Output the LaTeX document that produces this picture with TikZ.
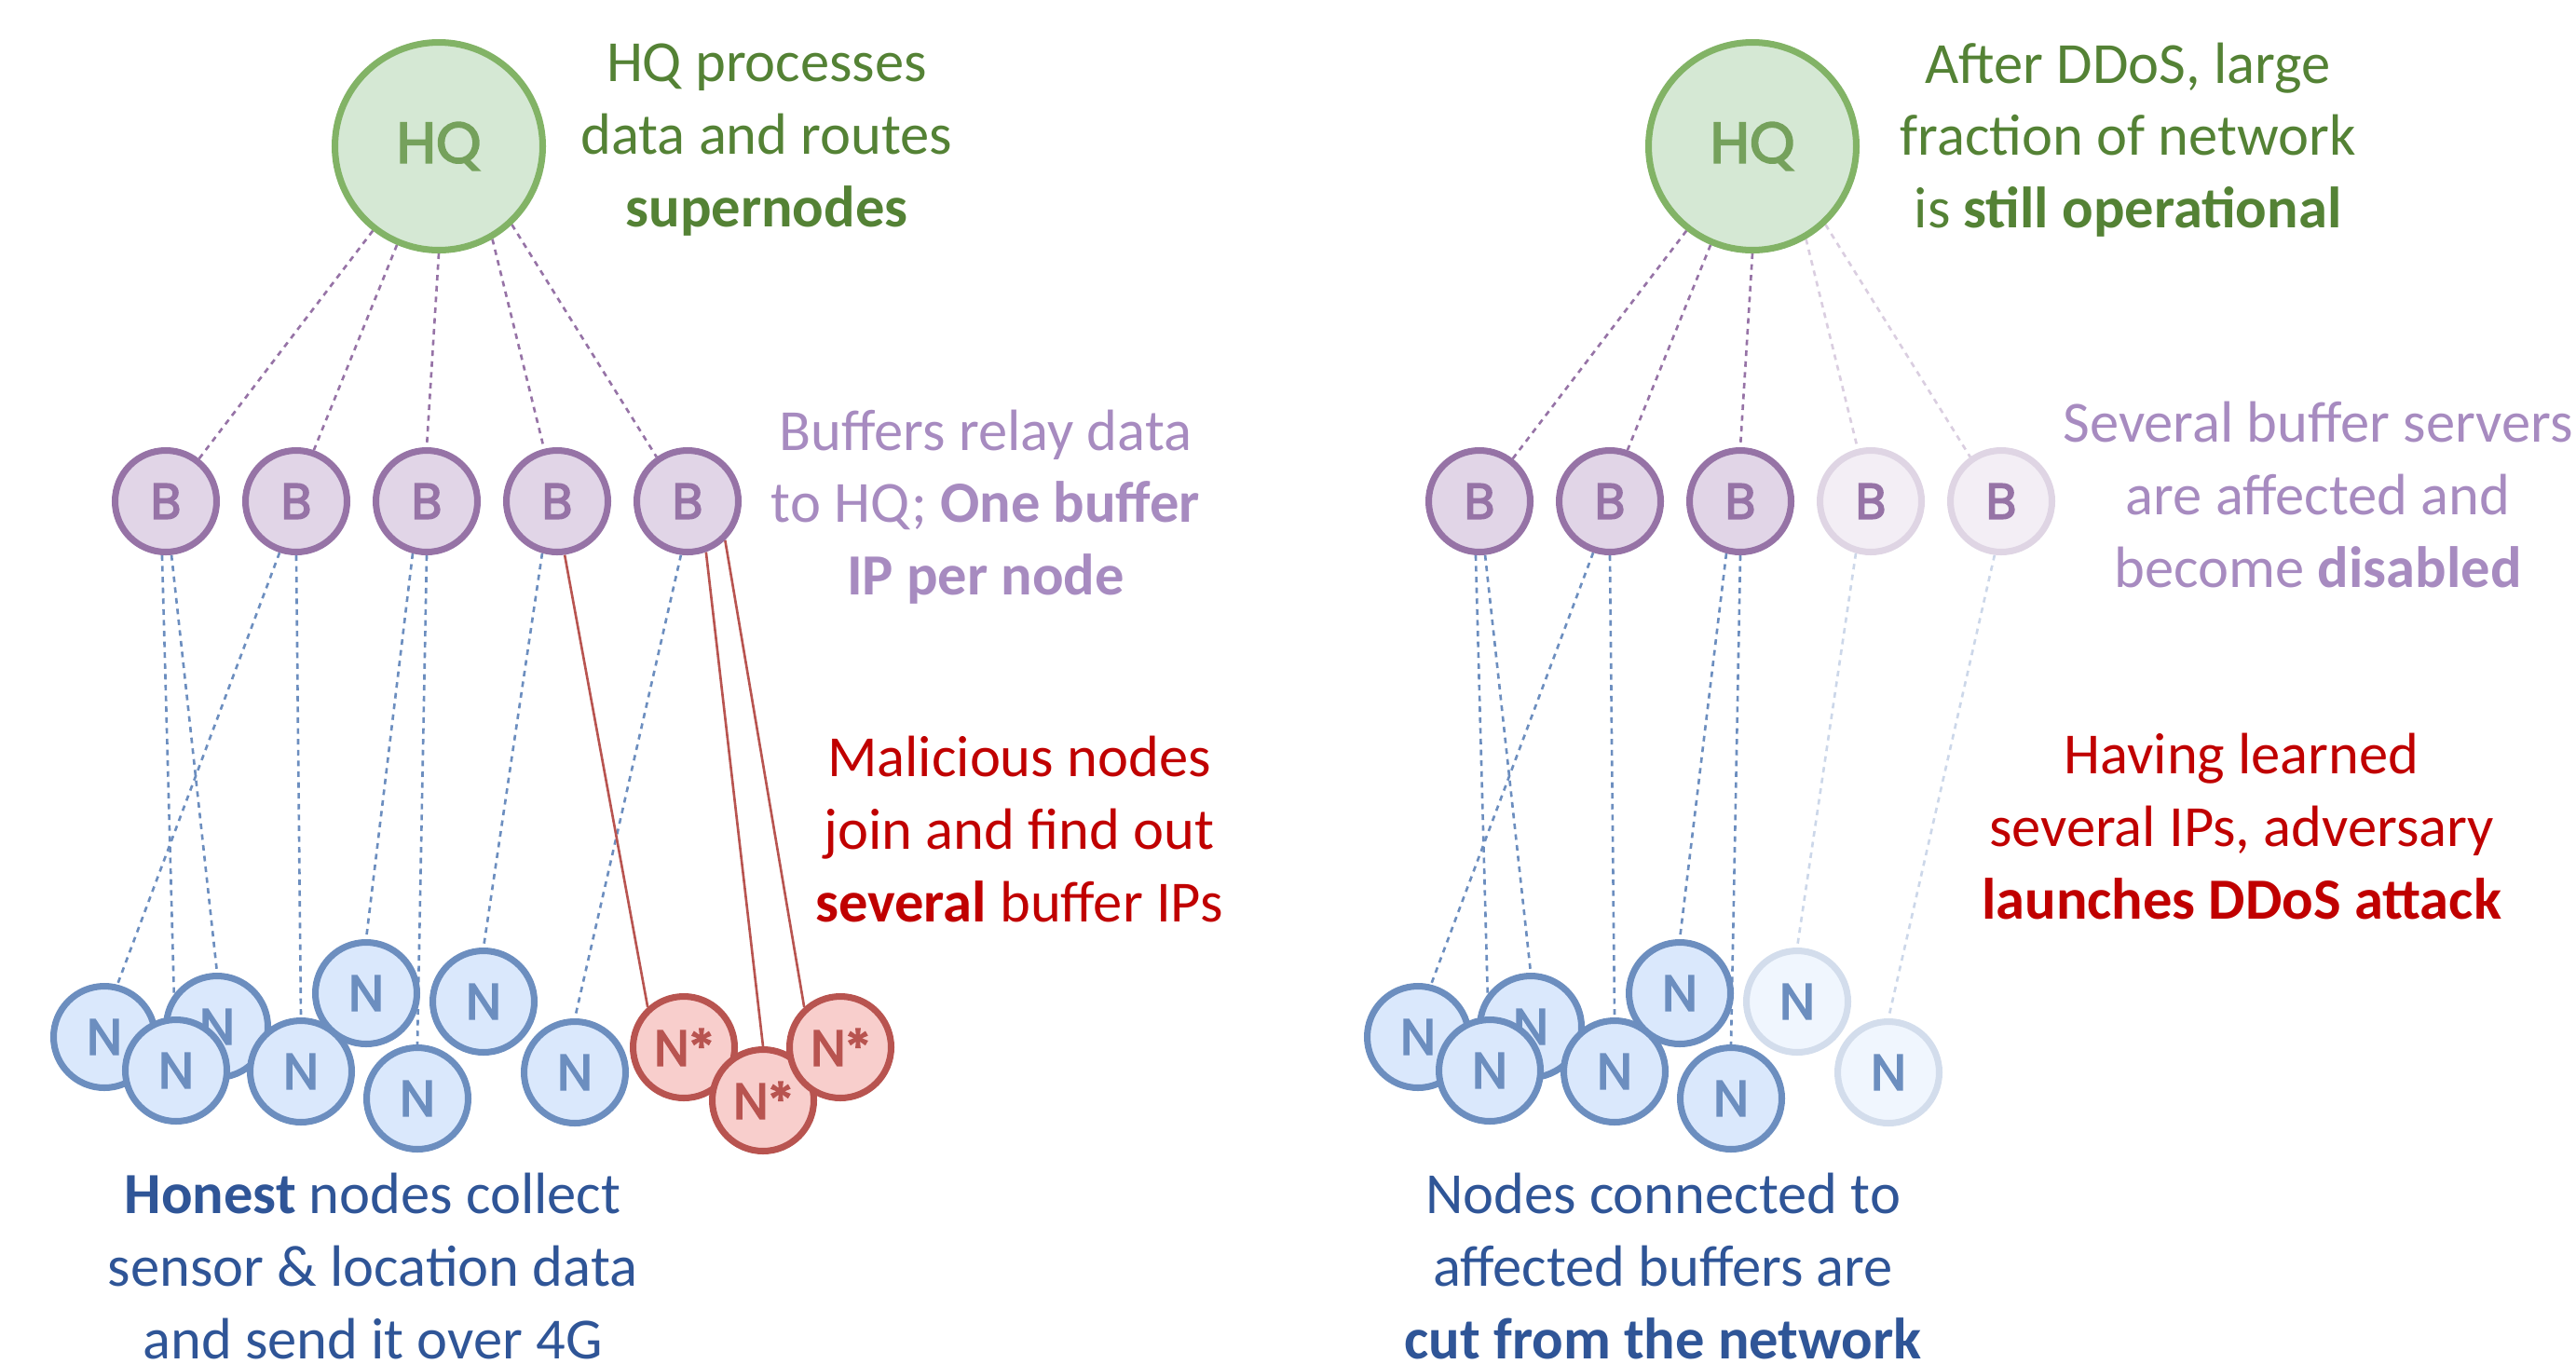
\documentclass[tikz,border=0pt]{standalone}
\usepackage{fontspec}
\setmainfont{Carlito}
\newfontfamily\nodefont[FakeBold=3]{Poppins}
\usepackage{xcolor}
\usepackage{tikz}
\usetikzlibrary{positioning, backgrounds}

\definecolor{hqfill}{HTML}{D5E8D4}
\definecolor{hqline}{HTML}{82B366}
\definecolor{buffill}{HTML}{E1D5E7}
\definecolor{bufline}{HTML}{9673A6}
\definecolor{honfill}{HTML}{DAE8FC}
\definecolor{honline}{HTML}{6C8EBF}
\definecolor{malfill}{HTML}{F8CECC}
\definecolor{malline}{HTML}{B85450}
\definecolor{txtgreen}{HTML}{548235}
\definecolor{txtpurple}{HTML}{A78BC0}
\definecolor{txtred}{HTML}{C00000}
\definecolor{txtblue}{HTML}{2F5597}

\begin{document}
\begin{tikzpicture}[
    hqnode/.style={
        circle,
        draw=hqline,
        line width=2pt,
        fill=hqfill,
        text=hqline!90!black,
        inner sep=0pt,
        minimum size=2.23cm,
        font=\nodefont\fontsize{17.5}{19}\selectfont
    },
    buf/.style={
        circle,
        draw=bufline,
        line width=2pt,
        fill=buffill,
        text=bufline,
        inner sep=0pt,
        minimum size=1.09cm,
        font=\nodefont\fontsize{15.3}{17}\selectfont
    },
    hon/.style={
        buf,
        draw=honline,
        fill=honfill,
        text=honline
    },
    mal/.style={
        buf,
        draw=malline,
        fill=malfill,
        text=malline
    },
    bufoff/.style={
        buf,
        draw=bufline!30,
        fill=buffill!40
    },
    honoff/.style={
        hon,
        draw=honline!30,
        fill=honfill!40
    },
    uplink/.style={
        dash pattern=on 1.7pt off 1.6pt,
        line width=0.75pt,
        color=bufline
    },
    downlink/.style={
        uplink,
        color=honline
    },
    uplinkoff/.style={
        uplink,
        color=bufline!35
    },
    downlinkoff/.style={
        downlink,
        color=honline!35
    },
    spy/.style={
        line width=0.75pt,
        color=malline
    },
    note/.style={
        align=center,
        font=\fontsize{17.8}{22.1}\selectfont
    }
]
\useasboundingbox (0,0) rectangle (27.65,-14.63);

% Before the attack
\node[hqnode] (hqL) at (4.71,-1.57) {HQ};

\node[buf] (bufL1) at (1.78,-5.38) {B};
\node[buf] (bufL2) at (3.18,-5.38) {B};
\node[buf] (bufL3) at (4.58,-5.38) {B};
\node[buf] (bufL4) at (5.98,-5.38) {B};
\node[buf] (bufL5) at (7.38,-5.38) {B};

\node[hon] (honL1) at (1.12,-11.13) {N};
\node[hon] (honL2) at (2.33,-11.02) {N};
\node[hon] (honL3) at (1.89,-11.49) {N};
\node[hon] (honL4) at (3.23,-11.50) {N};
\node[hon] (honL5) at (3.93,-10.66) {N};
\node[hon] (honL6) at (4.48,-11.79) {N};
\node[hon] (honL7) at (5.19,-10.75) {N};
\node[hon] (honL8) at (6.17,-11.51) {N};

\node[mal] (malL1) at (7.34,-11.24) {N*};
\node[mal] (malL2) at (8.19,-11.81) {N*};
\node[mal] (malL3) at (9.02,-11.24) {N*};

\begin{pgfonlayer}{background}
\draw[uplink] (hqL.232) -- (bufL1.52);
\draw[uplink] (hqL.247) -- (bufL2.71);
\draw[uplink] (hqL.270) -- (bufL3.90);
\draw[uplink] (hqL.300) -- (bufL4.104);
\draw[uplink] (hqL.313) -- (bufL5.125);

\draw[downlink] (bufL1.266) -- (honL3);
\draw[downlink] (bufL1.276) -- (honL2.north);
\draw[downlink] (bufL2.252) -- (honL1.76);
\draw[downlink] (bufL2.south) -- (honL4.north);
\draw[downlink] (bufL3.255) -- (honL5.north);
\draw[downlink] (bufL3.south) -- (honL6.north);
\draw[downlink] (bufL4.254) -- (honL7.north);
\draw[downlink] (bufL5.263) -- (honL8.north);

% Malicious nodes learn buffer IPs
\draw[spy] (bufL4.278) -- (malL1.132);
\draw[spy] (bufL5.290) -- (malL2.north);
\draw[spy] (bufL5.314) -- (malL3.132);
\end{pgfonlayer}

% After the attack
\begin{scope}[xshift=14.1cm]
\node[hqnode] (hqR) at (4.71,-1.57) {HQ};

\node[buf] (bufR1) at (1.78,-5.38) {B};
\node[buf] (bufR2) at (3.18,-5.38) {B};
\node[buf] (bufR3) at (4.58,-5.38) {B};
\node[bufoff] (bufR4) at (5.98,-5.38) {B};
\node[bufoff] (bufR5) at (7.38,-5.38) {B};

\node[hon] (honR1) at (1.12,-11.13) {N};
\node[hon] (honR2) at (2.33,-11.02) {N};
\node[hon] (honR3) at (1.89,-11.49) {N};
\node[hon] (honR4) at (3.23,-11.50) {N};
\node[hon] (honR5) at (3.93,-10.66) {N};
\node[hon] (honR6) at (4.48,-11.79) {N};
\node[honoff] (honR7) at (5.19,-10.75) {N};
\node[honoff] (honR8) at (6.17,-11.51) {N};

\begin{pgfonlayer}{background}
\draw[uplink] (hqR.232) -- (bufR1.52);
\draw[uplink] (hqR.247) -- (bufR2.71);
\draw[uplink] (hqR.270) -- (bufR3.90);
\draw[uplinkoff] (hqR.300) -- (bufR4.104);
\draw[uplinkoff] (hqR.313) -- (bufR5.125);

\draw[downlink] (bufR1.266) -- (honR3);
\draw[downlink] (bufR1.276) -- (honR2.north);
\draw[downlink] (bufR2.252) -- (honR1.76);
\draw[downlink] (bufR2.south) -- (honR4.north);
\draw[downlink] (bufR3.255) -- (honR5.north);
\draw[downlink] (bufR3.south) -- (honR6.north);
\draw[downlinkoff] (bufR4.254) -- (honR7.north);
\draw[downlinkoff] (bufR5.263) -- (honR8.north);
\end{pgfonlayer}
\end{scope}

% Annotations
\node[note, text=txtgreen] (hqnoteL) at (8.23,-1.50) {HQ processes\\data and routes\\\textbf{supernodes}};
\node[note, text=txtpurple] (bufnoteL) at (10.58,-5.44) {Buffers relay data\\to HQ; \textbf{One buffer}\\\textbf{IP per node}};
\node[note, text=txtred] (malnoteL) at (10.94,-8.90) {Malicious nodes\\join and find out\\\textbf{several} buffer IPs};
\node[note, text=txtblue] (honnoteL) at (4.00,-13.59) {\textbf{Honest} nodes collect\\sensor \& location data\\and send it over 4G};

\node[note, text=txtgreen] (hqnoteR) at (22.84,-1.50) {After DDoS, large\\fraction of network\\is \textbf{still operational}};
\node[note, text=txtpurple] (bufnoteR) at (24.88,-5.31) {Several buffer servers\\are affected and\\become \textbf{disabled}};
\node[note, text=txtred] (malnoteR) at (24.06,-8.87) {Having learned\\several IPs, adversary\\\textbf{launches DDoS attack}};
\node[note, text=txtblue] (honnoteR) at (17.85,-13.59) {Nodes connected to\\affected buffers are\\\textbf{cut from the network}};

\end{tikzpicture}
\end{document}
